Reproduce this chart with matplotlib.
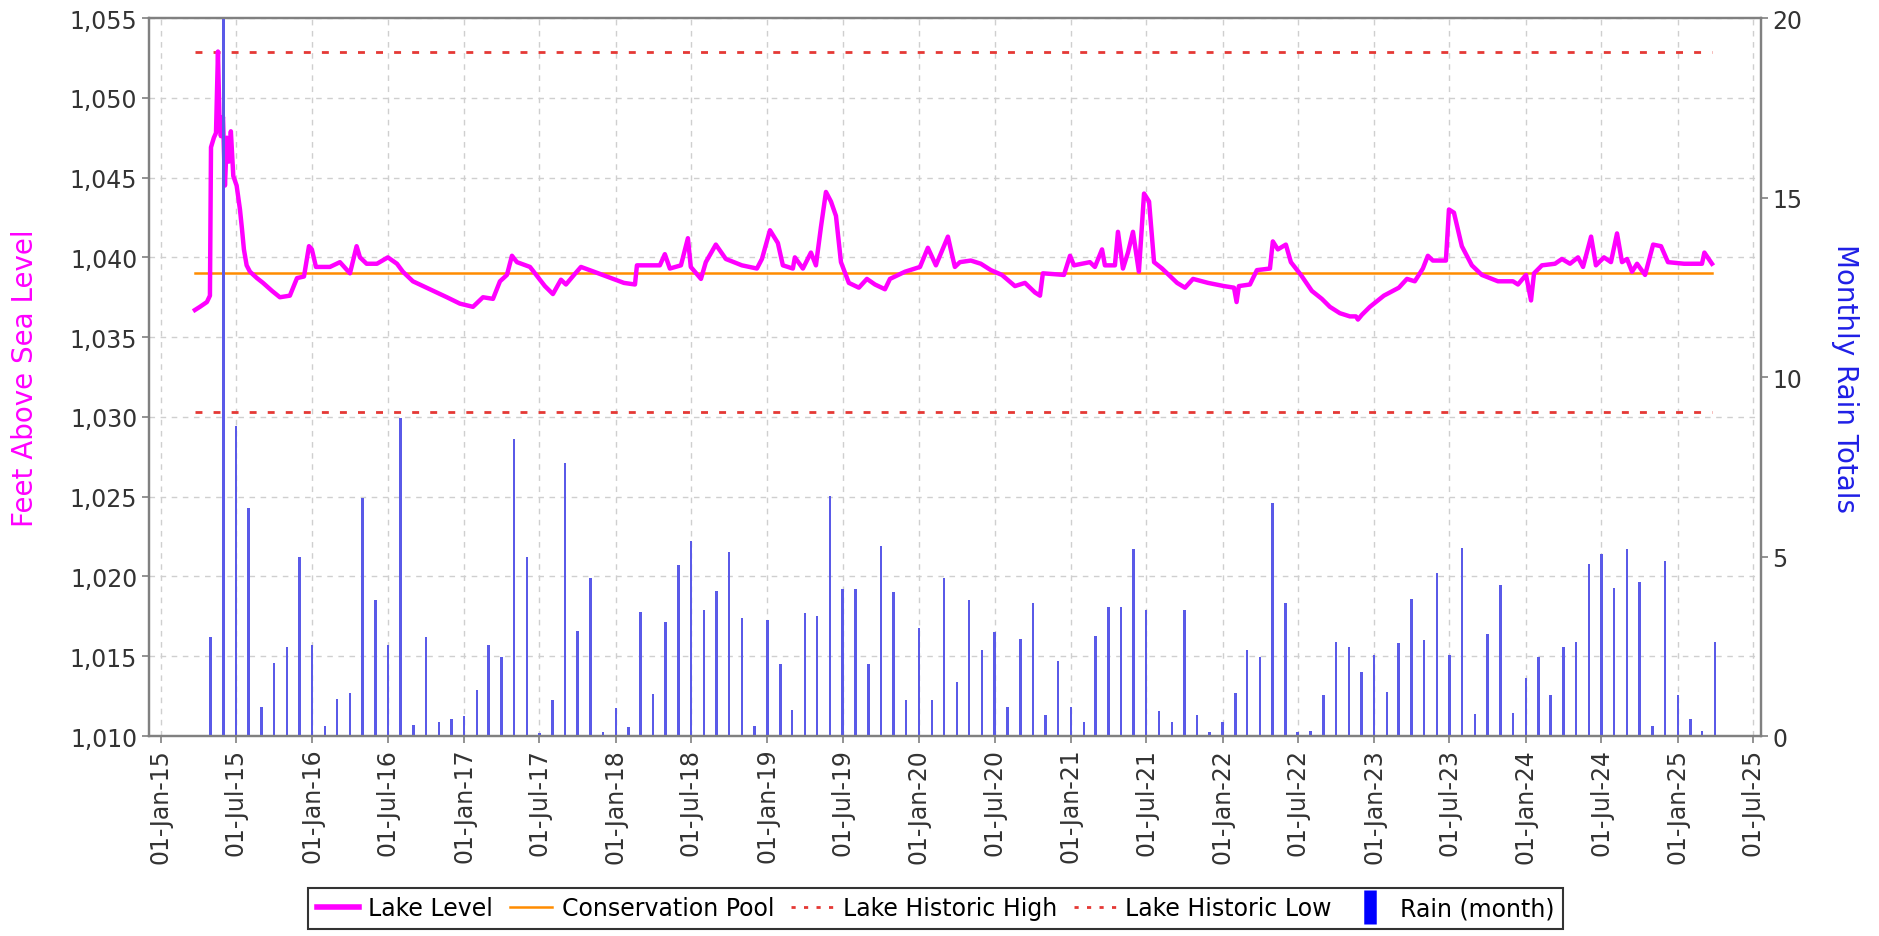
import numpy as np
import pandas as pd
import matplotlib
matplotlib.use("Agg")
import matplotlib.pyplot as plt
import matplotlib.dates as mdates
from matplotlib.lines import Line2D
from matplotlib.ticker import FuncFormatter

# lake level readings (decimal year, feet above sea level)
lake_year = [2015.226, 2015.259, 2015.305, 2015.325, 2015.332, 2015.351, 2015.365, 2015.378, 2015.388, 2015.397,
             2015.411, 2015.424, 2015.437, 2015.450, 2015.463, 2015.479, 2015.501, 2015.523, 2015.536, 2015.549,
             2015.567, 2015.589, 2015.635, 2015.675, 2015.734, 2015.786, 2015.852, 2015.899, 2015.945, 2015.978,
             2015.997, 2016.024, 2016.116, 2016.182, 2016.248, 2016.292, 2016.314, 2016.358, 2016.426, 2016.498,
             2016.558, 2016.597, 2016.663, 2016.775, 2016.887, 2016.973, 2017.059, 2017.125, 2017.191, 2017.237,
             2017.283, 2017.316, 2017.349, 2017.435, 2017.533, 2017.586, 2017.639, 2017.672, 2017.725, 2017.771,
             2017.857, 2017.955, 2018.054, 2018.127, 2018.140, 2018.291, 2018.324, 2018.357, 2018.430, 2018.476,
             2018.495, 2018.562, 2018.594, 2018.660, 2018.726, 2018.832, 2018.931, 2018.964, 2019.017, 2019.069,
             2019.102, 2019.168, 2019.181, 2019.234, 2019.287, 2019.320, 2019.353, 2019.386, 2019.419, 2019.452,
             2019.485, 2019.537, 2019.603, 2019.656, 2019.709, 2019.775, 2019.808, 2019.907, 2020.006, 2020.058,
             2020.111, 2020.190, 2020.216, 2020.236, 2020.269, 2020.341, 2020.407, 2020.473, 2020.546, 2020.632,
             2020.698, 2020.764, 2020.797, 2020.816, 2020.955, 2020.995, 2021.021, 2021.126, 2021.159, 2021.206,
             2021.225, 2021.291, 2021.311, 2021.344, 2021.377, 2021.410, 2021.449, 2021.483, 2021.516, 2021.549,
             2021.602, 2021.701, 2021.753, 2021.806, 2021.905, 2022.010, 2022.076, 2022.093, 2022.108, 2022.181,
             2022.227, 2022.313, 2022.332, 2022.365, 2022.418, 2022.451, 2022.517, 2022.589, 2022.655, 2022.708,
             2022.774, 2022.840, 2022.880, 2022.893, 2022.919, 2022.972, 2023.064, 2023.163, 2023.216, 2023.268,
             2023.321, 2023.354, 2023.387, 2023.473, 2023.493, 2023.526, 2023.578, 2023.644, 2023.710, 2023.816,
             2023.915, 2023.948, 2024.001, 2024.034, 2024.054, 2024.106, 2024.192, 2024.238, 2024.291, 2024.344,
             2024.377, 2024.430, 2024.462, 2024.515, 2024.561, 2024.601, 2024.634, 2024.667, 2024.700, 2024.733,
             2024.786, 2024.839, 2024.891, 2024.937, 2025.043, 2025.161, 2025.177, 2025.227]
lake_ft = [1036.7, 1036.9, 1037.2, 1037.6, 1046.9, 1047.5, 1047.8, 1052.9, 1048.5, 1047.6,
           1048.8, 1044.5, 1047.5, 1046.0, 1047.9, 1045.1, 1044.5, 1043.0, 1041.8, 1040.5,
           1039.5, 1039.1, 1038.7, 1038.4, 1037.9, 1037.5, 1037.6, 1038.7, 1038.8, 1040.7,
           1040.5, 1039.4, 1039.4, 1039.7, 1039.0, 1040.7, 1040.0, 1039.6, 1039.6, 1040.0,
           1039.6, 1039.1, 1038.5, 1038.0, 1037.5, 1037.1, 1036.9, 1037.5, 1037.4, 1038.5,
           1038.9, 1040.1, 1039.7, 1039.4, 1038.2, 1037.7, 1038.6, 1038.3, 1038.9, 1039.4,
           1039.1, 1038.75, 1038.4, 1038.3, 1039.5, 1039.5, 1040.2, 1039.3, 1039.5, 1041.2,
           1039.4, 1038.65, 1039.7, 1040.8, 1039.9, 1039.5, 1039.3, 1039.9, 1041.7, 1040.9,
           1039.5, 1039.3, 1040.0, 1039.3, 1040.3, 1039.5, 1041.9, 1044.1, 1043.5, 1042.6,
           1039.7, 1038.4, 1038.1, 1038.65, 1038.3, 1038.0, 1038.65, 1039.1, 1039.4, 1040.6,
           1039.5, 1041.3, 1040.2, 1039.4, 1039.7, 1039.8, 1039.6, 1039.2, 1038.9, 1038.2,
           1038.4, 1037.8, 1037.6, 1039.0, 1038.9, 1040.1, 1039.5, 1039.7, 1039.4, 1040.5,
           1039.5, 1039.5, 1041.6, 1039.3, 1040.3, 1041.6, 1039.1, 1044.0, 1043.5, 1039.7,
           1039.3, 1038.4, 1038.1, 1038.65, 1038.4, 1038.2, 1038.1, 1037.2, 1038.2, 1038.3,
           1039.2, 1039.3, 1041.0, 1040.5, 1040.8, 1039.7, 1038.9, 1037.9, 1037.4, 1036.9,
           1036.5, 1036.3, 1036.3, 1036.1, 1036.4, 1036.9, 1037.6, 1038.1, 1038.65, 1038.5,
           1039.3, 1040.1, 1039.8, 1039.8, 1043.0, 1042.8, 1040.7, 1039.5, 1038.9, 1038.5,
           1038.5, 1038.3, 1038.9, 1037.3, 1039.0, 1039.5, 1039.6, 1039.9, 1039.6, 1040.0,
           1039.4, 1041.3, 1039.5, 1040.0, 1039.7, 1041.5, 1039.7, 1039.9, 1039.1, 1039.6,
           1038.9, 1040.8, 1040.7, 1039.7, 1039.6, 1039.6, 1040.3, 1039.6]

# monthly rain totals, one bar per month starting May 2015
rain_first_month = "2015-05-01"
rain_month = [2.75, 21.0, 8.64, 6.34, 0.80, 2.03, 2.47, 4.98, 2.54, 0.29,
              1.03, 1.20, 6.62, 3.80, 2.53, 8.85, 0.31, 2.75, 0.40, 0.47,
              0.55, 1.29, 2.53, 2.19, 8.27, 5.00, 0.08, 1.01, 7.60, 2.92,
              4.40, 0.12, 0.77, 0.24, 3.45, 1.17, 3.17, 4.77, 5.44, 3.50,
              4.04, 5.14, 3.30, 0.27, 3.24, 2.00, 0.73, 3.44, 3.34, 6.70,
              4.10, 4.10, 2.00, 5.30, 4.00, 1.00, 3.00, 1.00, 4.40, 1.50,
              3.80, 2.40, 2.90, 0.80, 2.70, 3.70, 0.60, 2.10, 0.80, 0.40,
              2.80, 3.60, 3.60, 5.20, 3.50, 0.70, 0.40, 3.50, 0.60, 0.10,
              0.40, 1.20, 2.40, 2.20, 6.50, 3.70, 0.10, 0.15, 1.14, 2.63,
              2.47, 1.79, 2.26, 1.22, 2.59, 3.82, 2.67, 4.54, 2.26, 5.23,
              0.61, 2.83, 4.22, 0.64, 1.63, 2.19, 1.15, 2.47, 2.63, 4.79,
              5.07, 4.11, 5.21, 4.28, 0.27, 4.87, 1.14, 0.47, 0.15, 2.61]

conservation_pool = 1039.0
historic_high = 1052.9
historic_low = 1030.3


def year_to_date(y):
    y = np.asarray(y, dtype=float)
    return pd.Timestamp("2015-01-01") + pd.to_timedelta((y - 2015.0) * 365.25, unit="D")


lake_dates = year_to_date(lake_year)
rain_dates = pd.date_range(rain_first_month, periods=len(rain_month), freq="MS")

fig = plt.figure(figsize=(18.79, 9.37), dpi=100)
ax = fig.add_axes([0.0793, 0.2134, 0.8578, 0.7663])
ax2 = ax.twinx()

span = [lake_dates[0], lake_dates[-1]]
ax.plot(lake_dates, lake_ft, color="#ff00ff", lw=3.2, zorder=3)
ax.plot(span, [conservation_pool] * 2, color="#ff8c00", lw=1.8, zorder=2)
ax.plot(span, [historic_high] * 2, color="#e53935", lw=2, ls=(0, (2.5, 4)), zorder=2)
ax.plot(span, [historic_low] * 2, color="#e53935", lw=2, ls=(0, (2.5, 4)), zorder=2)

ax2.bar(rain_dates, rain_month, width=6, color="#5a5ae8", zorder=2)

ax.set_ylim(1010, 1055)
ax2.set_ylim(0, 20)
ax.set_xlim(pd.Timestamp("2014-12-04"), pd.Timestamp("2025-07-20"))
ax.set_yticks(np.arange(1010, 1056, 5))
ax2.set_yticks([0, 5, 10, 15, 20])
ax.yaxis.set_major_formatter(FuncFormatter(lambda v, p: f"{v:,.0f}"))

ax.xaxis.set_major_locator(mdates.MonthLocator(bymonth=[1, 7]))
ax.xaxis.set_major_formatter(mdates.DateFormatter("%d-%b-%y"))
for lbl in ax.get_xticklabels():
    lbl.set_rotation(90)

ax.grid(True, color="#cfcfcf", ls=(0, (4, 4)), lw=1)
ax.set_axisbelow(True)

for a in (ax, ax2):
    for s in a.spines.values():
        s.set_color("#808080")
        s.set_linewidth(1.6)
    a.tick_params(colors="#808080", labelcolor="#333333", labelsize=17, length=5, width=1.2)

ax.set_ylabel("Feet Above Sea Level", color="#ff00ff", fontsize=20, va="center")
ax.yaxis.set_label_coords(-0.077, 0.5)
ax2.set_ylabel("Monthly Rain Totals", color="#1f1fe6", fontsize=20, rotation=-90, va="center")
ax2.yaxis.set_label_coords(1.052, 0.5)

handles = [
    Line2D([], [], color="#ff00ff", lw=4),
    Line2D([], [], color="#ff8c00", lw=1.8),
    Line2D([], [], color="#e53935", lw=2, ls=(0, (1.5, 3))),
    Line2D([], [], color="#e53935", lw=2, ls=(0, (1.5, 3))),
    Line2D([], [], color="#0000ff", marker="|", ms=24, mew=9, ls="none"),
]
labels = ["Lake Level", "Conservation Pool", "Lake Historic High", "Lake Historic Low", "Rain (month)"]
leg = fig.legend(handles, labels, loc="upper center", bbox_to_anchor=(0.498, 0.0512),
                 ncol=5, frameon=True, fancybox=False, edgecolor="black", fontsize=17,
                 handlelength=1.8, handletextpad=0.4, columnspacing=0.7, borderpad=0.35,
                 borderaxespad=0)
leg.get_frame().set_linewidth(1.5)

fig.savefig("out.png", dpi=100)
